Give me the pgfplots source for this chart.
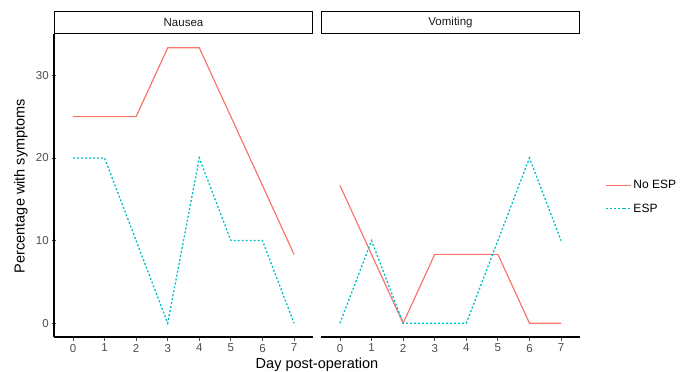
\documentclass[border=0pt]{standalone}
\usepackage{fontspec}
\setmainfont{Liberation Sans}
\usepackage{pgfplots}
\pgfplotsset{compat=1.18}
\definecolor{noesp}{HTML}{F8766D}
\definecolor{esp}{HTML}{00BFC4}
\definecolor{tickgrey}{HTML}{4D4D4D}
\definecolor{stripgrey}{HTML}{1A1A1A}
\begin{document}
\begin{tikzpicture}
\path[use as bounding box] (0,0) rectangle (691bp,372bp);
\pgfplotsset{
 panel/.style={
  at={(#1,35bp)}, anchor=south west, scale only axis, width=259bp, height=303bp,
  xmin=-0.6, xmax=7.6, ymin=-1.667, ymax=35,
  xtick={0,...,7},
  axis x line=bottom,
  tick align=outside, major tick length=3.5bp,
  tick style={tickgrey, line width=0.9bp},
  ticklabel style={font=\fontsize{11.5bp}{13bp}\selectfont, text=tickgrey},
  /pgf/number format/assume math mode=true,
  every axis title/.style={at={(0.5,1)}, anchor=south, draw=black, line width=1.2bp,
    minimum width=258bp, minimum height=21.5bp, inner sep=0pt,
    font=\fontsize{11.5bp}{13bp}\selectfont, text=stripgrey},
 },
 noesp/.style={color=noesp, line width=1.2bp, mark=none},
 esp/.style={color=esp, line width=1.3bp, mark=none, dash pattern=on 2bp off 2bp},
}
\begin{axis}[panel=54bp, title={Nausea}, axis y line=left, ytick={0,10,20,30},
  axis line style={-, line width=1.1bp, black},
  x axis line style={-}, y axis line style={-}]
\addplot[noesp] coordinates {(0,25) (1,25) (2,25) (3,33.33) (4,33.33) (5,25) (6,16.67) (7,8.33)};
\addplot[esp] coordinates {(0,20) (1,20) (2,10) (3,0) (4,20) (5,10) (6,10) (7,0)};
\end{axis}
\begin{axis}[panel=321bp, title={Vomiting}, axis y line=none,
  axis line style={-, line width=1.1bp, black}, x axis line style={-},
  legend style={at={(1.085,0.462)}, anchor=west, draw=none, fill=none,
    font=\fontsize{12bp}{14bp}\selectfont, row sep=9.5bp},
  legend cell align=left,
  legend image code/.code={\draw[#1] (0bp,0bp) -- (18bp,0bp); \path (18bp,0bp) -- (25bp,0bp);}]
\addplot[noesp] coordinates {(0,16.67) (1,8.33) (2,0) (3,8.33) (4,8.33) (5,8.33) (6,0) (7,0)};
\addplot[esp] coordinates {(0,0) (1,10) (2,0) (3,0) (4,0) (5,10) (6,20) (7,10)};
\legend{No ESP, ESP}
\end{axis}
\node[font=\fontsize{14.5bp}{16bp}\selectfont] at (317bp,7bp) {Day post-operation};
\node[font=\fontsize{14.5bp}{16bp}\selectfont, rotate=90] at (21bp,186bp) {Percentage with symptoms};
\end{tikzpicture}
\end{document}
